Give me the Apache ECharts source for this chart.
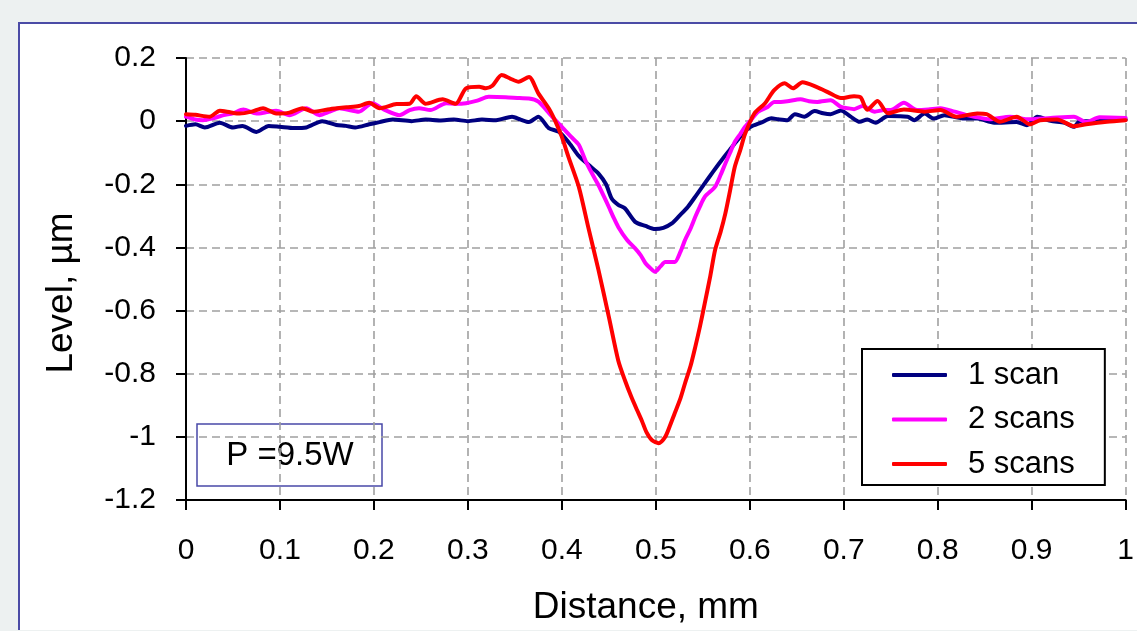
<!DOCTYPE html>
<html>
<head>
<meta charset="utf-8">
<title>Level profile</title>
<script src="https://cdn.jsdelivr.net/npm/echarts@6/dist/echarts.min.js"></script>
<style>
  html, body { margin: 0; padding: 0; background: #edf1f1; }
  #panel {
    position: absolute; left: 18px; top: 22px; width: 1200px; height: 606px;
    background: #ffffff; border-left: 2px solid #4b4ba6; border-top: 2px solid #4b4ba6;
  }
  #chart { position: absolute; left: 0; top: 0; width: 1137px; height: 631px; }
</style>
</head>
<body>
<div id="panel"></div>
<div id="chart"></div>
<script>
// Surface profiles (distance in mm, level in µm)
const scan1X = [0.000,0.010,0.020,0.036,0.050,0.060,0.075,0.088,0.100,0.115,0.128,0.145,0.160,0.170,0.180,0.195,0.206,0.220,0.240,0.255,0.270,0.285,0.300,0.315,0.330,0.347,0.356,0.365,0.375,0.386,0.397,0.408,0.418,0.429,0.439,0.447,0.453,0.460,0.467,0.478,0.489,0.499,0.508,0.517,0.525,0.534,0.543,0.552,0.561,0.570,0.579,0.587,0.594,0.601,0.612,0.623,0.630,0.640,0.648,0.658,0.669,0.678,0.686,0.697,0.707,0.717,0.725,0.734,0.747,0.768,0.775,0.786,0.796,0.807,0.828,0.842,0.860,0.884,0.895,0.906,0.920,0.935,0.945,0.951,0.969,0.985,1.000];
const scan1Y = [-0.015,-0.010,-0.020,-0.005,-0.020,-0.015,-0.034,-0.015,-0.018,-0.022,-0.020,0.000,-0.012,-0.015,-0.020,-0.010,-0.003,0.005,0.000,0.005,0.002,0.005,0.000,0.005,0.003,0.014,0.005,-0.003,0.014,-0.022,-0.034,-0.070,-0.110,-0.140,-0.166,-0.200,-0.245,-0.265,-0.276,-0.319,-0.332,-0.342,-0.338,-0.324,-0.300,-0.272,-0.235,-0.197,-0.160,-0.124,-0.090,-0.060,-0.035,-0.018,-0.005,0.009,0.006,0.003,0.022,0.014,0.032,0.025,0.022,0.034,0.015,-0.002,0.005,-0.005,0.016,0.014,0.003,0.024,0.008,0.019,0.008,0.008,-0.005,-0.003,-0.013,0.014,0.001,-0.005,-0.018,0.000,0.000,0.003,0.005];

const scan2X = [0.000,0.010,0.018,0.030,0.040,0.050,0.061,0.075,0.085,0.096,0.110,0.128,0.142,0.153,0.163,0.184,0.198,0.212,0.227,0.238,0.248,0.260,0.277,0.287,0.298,0.310,0.322,0.340,0.355,0.365,0.375,0.385,0.393,0.400,0.410,0.418,0.425,0.432,0.439,0.445,0.450,0.455,0.460,0.469,0.478,0.484,0.489,0.494,0.499,0.505,0.510,0.520,0.526,0.531,0.537,0.542,0.547,0.552,0.563,0.569,0.574,0.579,0.584,0.590,0.595,0.601,0.609,0.619,0.626,0.633,0.640,0.654,0.663,0.672,0.686,0.697,0.704,0.711,0.720,0.733,0.743,0.750,0.764,0.778,0.790,0.803,0.818,0.830,0.839,0.855,0.877,0.895,0.920,0.945,0.958,0.972,1.000];
const scan2Y = [0.014,0.005,0.003,0.010,0.019,0.025,0.037,0.024,0.028,0.033,0.019,0.041,0.019,0.030,0.041,0.030,0.057,0.035,0.019,0.035,0.041,0.035,0.057,0.055,0.057,0.065,0.077,0.076,0.073,0.072,0.062,0.030,0.003,-0.018,-0.050,-0.075,-0.124,-0.165,-0.203,-0.240,-0.272,-0.305,-0.335,-0.375,-0.403,-0.425,-0.450,-0.465,-0.477,-0.460,-0.446,-0.446,-0.415,-0.377,-0.340,-0.303,-0.270,-0.240,-0.208,-0.170,-0.134,-0.100,-0.066,-0.040,-0.018,0.003,0.030,0.045,0.061,0.061,0.063,0.069,0.063,0.061,0.066,0.045,0.041,0.038,0.048,0.030,0.035,0.035,0.058,0.035,0.037,0.041,0.030,0.020,0.014,0.006,0.014,0.006,0.010,0.014,-0.003,0.012,0.010];

const scan5X = [0.000,0.010,0.025,0.036,0.047,0.057,0.070,0.082,0.096,0.110,0.124,0.135,0.153,0.171,0.184,0.195,0.206,0.224,0.238,0.245,0.255,0.273,0.287,0.298,0.312,0.319,0.326,0.336,0.345,0.354,0.365,0.375,0.386,0.393,0.400,0.407,0.418,0.428,0.439,0.450,0.460,0.467,0.474,0.480,0.485,0.490,0.496,0.503,0.510,0.515,0.520,0.526,0.531,0.537,0.542,0.547,0.552,0.558,0.563,0.569,0.574,0.579,0.584,0.590,0.595,0.605,0.616,0.626,0.637,0.646,0.656,0.672,0.683,0.697,0.711,0.718,0.725,0.736,0.747,0.764,0.786,0.803,0.820,0.842,0.852,0.866,0.884,0.898,0.909,0.927,0.945,0.958,0.980,1.000];
const scan5Y = [0.022,0.020,0.014,0.033,0.028,0.024,0.030,0.041,0.024,0.027,0.041,0.030,0.038,0.044,0.048,0.058,0.041,0.054,0.055,0.079,0.055,0.069,0.055,0.104,0.109,0.104,0.112,0.146,0.135,0.125,0.140,0.088,0.041,0.000,-0.050,-0.113,-0.208,-0.335,-0.472,-0.620,-0.758,-0.820,-0.874,-0.915,-0.948,-0.985,-1.011,-1.020,-1.000,-0.965,-0.926,-0.880,-0.831,-0.775,-0.715,-0.650,-0.578,-0.490,-0.409,-0.350,-0.292,-0.220,-0.145,-0.090,-0.040,0.025,0.056,0.098,0.120,0.104,0.123,0.107,0.092,0.073,0.079,0.075,0.036,0.064,0.025,0.037,0.030,0.035,0.014,0.024,0.022,-0.002,0.014,-0.010,0.003,0.005,-0.016,-0.010,-0.002,0.003];

const seriesNames = ['1 scan', '2 scans', '5 scans'];
const seriesColors = ['#000080', '#ff00ff', '#ff0000'];
const xTicks = { min: 0, max: 1, step: 0.1 };
const yTicks = { min: -1.2, max: 0.2, step: 0.2 };
const powerNote = 'P =9.5W';

const FONT = '"Liberation Sans", Arial, Helvetica, sans-serif';
const pairs = (xs, ys) => xs.map((x, i) => [x, ys[i]]);
const profiles = [pairs(scan1X, scan1Y), pairs(scan2X, scan2Y), pairs(scan5X, scan5Y)];

const chart = echarts.init(document.getElementById('chart'), null, { renderer: 'canvas' });

const dashed = { color: '#a0a0a0', width: 1.6, type: [8, 5] };

chart.setOption({
  backgroundColor: 'transparent',
  animation: false,
  textStyle: { fontFamily: FONT },
  grid: { left: 186, right: 8, top: 58, bottom: 131, containLabel: false },
  xAxis: {
    type: 'value',
    min: xTicks.min, max: xTicks.max, interval: xTicks.step,
    name: 'Distance, mm',
    nameLocation: 'middle',
    nameGap: 89,
    nameTextStyle: { fontSize: 37, color: '#000', fontFamily: FONT, padding: [0, 20, 0, 0] },
    axisLine: { show: true, onZero: false, lineStyle: { color: '#000', width: 2 } },
    axisTick: { show: true, inside: false, length: 10, lineStyle: { color: '#000', width: 2 } },
    axisLabel: { margin: 36, fontSize: 30, color: '#000', fontFamily: FONT,
      formatter: v => String(+v.toFixed(1)) },
    splitLine: { show: true, lineStyle: dashed }
  },
  yAxis: {
    type: 'value',
    min: yTicks.min, max: yTicks.max, interval: yTicks.step,
    name: 'Level, µm',
    nameLocation: 'middle',
    nameGap: 106,
    nameTextStyle: { fontSize: 37, color: '#000', fontFamily: FONT, padding: [0, 28, 0, 0] },
    axisLine: { show: true, onZero: false, lineStyle: { color: '#000', width: 2 } },
    axisTick: { show: true, inside: false, length: 10, lineStyle: { color: '#000', width: 2 } },
    axisLabel: { margin: 30, fontSize: 30, color: '#000', fontFamily: FONT,
      formatter: v => String(+v.toFixed(1)) },
    splitLine: { show: true, lineStyle: dashed }
  },
  legend: {
    orient: 'vertical',
    left: 862, top: 349,
    padding: [9, 30, 4, 30],
    backgroundColor: '#ffffff',
    borderColor: '#000000',
    borderWidth: 2,
    borderRadius: 0,
    icon: 'roundRect',
    itemWidth: 55, itemHeight: 4, itemGap: 10.5,
    textStyle: { fontSize: 31, lineHeight: 34, color: '#000', fontFamily: FONT, padding: [0, 0, 0, 16] },
    data: seriesNames,
    z: 10
  },
  graphic: [{
    type: 'group',
    z: 100,
    children: [
      { type: 'rect', shape: { x: 197, y: 424, width: 185, height: 62 },
        style: { fill: '#ffffff', stroke: '#4848a8', lineWidth: 1.5 } },
      { type: 'text', x: 290, y: 456,
        style: { text: powerNote, fontSize: 33, fontFamily: FONT, fill: '#000',
                 align: 'center', verticalAlign: 'middle' } }
    ]
  }],
  series: profiles.map((data, i) => ({
    name: seriesNames[i],
    type: 'line',
    data: data,
    symbol: 'none',
    smooth: 0.25,
    clip: true,
    lineStyle: { color: seriesColors[i], width: 4, cap: 'round', join: 'round' },
    itemStyle: { color: seriesColors[i] },
    z: 3 + i
  }))
});
</script>
</body>
</html>
